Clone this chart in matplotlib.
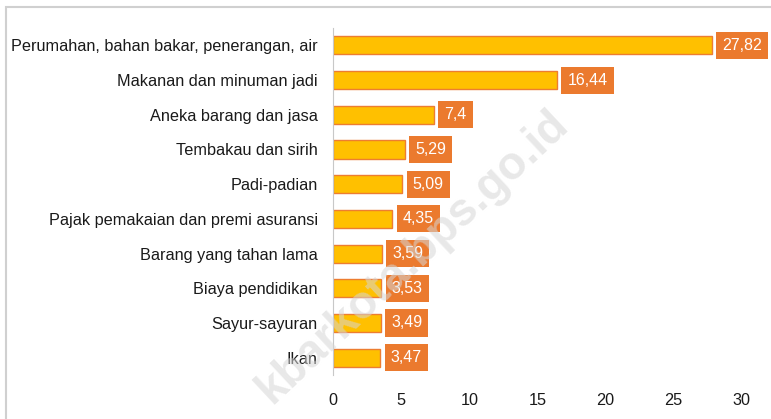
import matplotlib.pyplot as plt
from matplotlib.patches import Rectangle

# data (percent share)
categories = [
    "Perumahan, bahan bakar, penerangan, air",
    "Makanan dan minuman jadi",
    "Aneka barang dan jasa",
    "Tembakau dan sirih",
    "Padi-padian",
    "Pajak pemakaian dan premi asuransi",
    "Barang yang tahan lama",
    "Biaya pendidikan",
    "Sayur-sayuran",
    "Ikan",
]
values = [27.82, 16.44, 7.4, 5.29, 5.09, 4.35, 3.59, 3.53, 3.49, 3.47]
value_labels = ["27,82", "16,44", "7,4", "5,29", "5,09", "4,35", "3,59", "3,53", "3,49", "3,47"]
x_ticks = [0, 5, 10, 15, 20, 25, 30]

plt.rcParams["font.family"] = ["Liberation Sans", "DejaVu Sans"]

fig = plt.figure(figsize=(7.71, 4.19), dpi=100)
ax = fig.add_axes([0.432, 0.105, 0.530, 0.828])

pos = list(range(len(categories)))
ax.barh(pos, values, height=0.52, color="#FFC000", edgecolor="#ED7D31", linewidth=1.0)

for y, v, lab in zip(pos, values, value_labels):
    ax.annotate(lab, xy=(v, y), xytext=(7.5, 0), textcoords="offset points",
                va="center", ha="left", color="white", fontsize=11.5,
                bbox=dict(boxstyle="square,pad=0.38", fc="#EB7A2E", ec="none"))

ax.set_xlim(0, 30)
ax.set_ylim(len(categories) - 0.5, -0.5)
ax.set_yticks(pos)
ax.set_yticklabels(categories, fontsize=11.7, color="#1a1a1a")
ax.set_xticks(x_ticks)
ax.set_xticklabels([str(t) for t in x_ticks], fontsize=11.7, color="#1a1a1a")
ax.tick_params(axis="y", length=0, pad=11)
ax.tick_params(axis="x", length=0, pad=13)
for s in ["top", "right", "bottom"]:
    ax.spines[s].set_visible(False)
ax.spines["left"].set_color("#C8C8C8")

# outer frame (only top and left edges visible in the reference)
fig.patches.append(Rectangle((6 / 771, -0.05), 1.2, 1.05 - 7 / 419, transform=fig.transFigure,
                             fill=False, ec="#D0D0D0", lw=1.5))

# watermark (its leading letters fall outside the reference crop)
fig.text(562 / 771, 1 - 118 / 419, "kbarkota.bps.go.id", rotation=43,
         rotation_mode="anchor", ha="right", va="center", fontsize=33,
         fontweight="bold", color="#D6D6D6", alpha=0.55)

fig.savefig("out.png", dpi=100)
